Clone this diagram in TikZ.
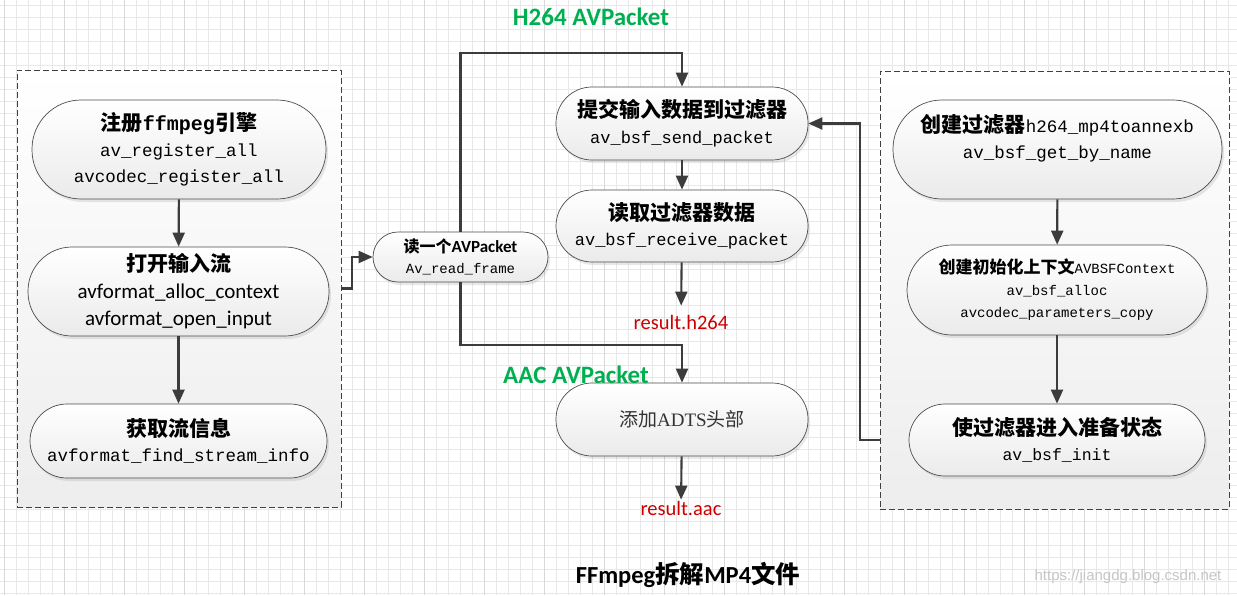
\documentclass[tikz,border=0pt]{standalone}
\usepackage{fontspec}
\setmainfont{Liberation Serif}
\setsansfont{Carlito}
\setmonofont{Liberation Mono}
\newfontfamily\cjk{Noto Sans CJK SC}
\newfontfamily\wmfont{Liberation Sans}
\usetikzlibrary{positioning, shapes.misc, arrows.meta, shadows}

\definecolor{pktgreen}{RGB}{0,176,80}
\definecolor{outred}{RGB}{204,0,0}
\definecolor{linegray}{RGB}{60,60,60}

\newcommand{\cnbold}[2][21]{{\cjk\bfseries\fontsize{#1}{26}\selectfont #2}}
\newcommand{\code}[2][17.5]{{\ttfamily\fontsize{#1}{26}\selectfont #2}}

\begin{document}
\begin{tikzpicture}[x=1pt, y=-1pt]
    % Styles
    \tikzstyle{gridline} = [gray!18, line width=0.7pt]
    \tikzstyle{major gridline} = [gray!30, line width=0.8pt]
    \tikzstyle{group} = [rectangle, draw=black!75, line width=0.8pt, dash pattern=on 6pt off 3pt, top color=white, bottom color=gray!14, inner sep=0pt]
    \tikzstyle{vertex} = [rectangle, draw=black!70, line width=0.7pt, top color=white, bottom color=gray!16, drop shadow={shadow xshift=2pt, shadow yshift=-3pt, opacity=0.18}, align=center, inner sep=0pt, font=\fontsize{17.5}{26}\selectfont\ttfamily]
    \tikzstyle{edge} = [-{Triangle[length=14pt, width=12pt]}, draw=linegray, line width=2.1pt]
    \tikzstyle{packet} = [font=\sffamily\bfseries\fontsize{25}{28}\selectfont, text=pktgreen, inner sep=0pt]
    \tikzstyle{result} = [font=\sffamily\fontsize{20.5}{24}\selectfont, text=outred, inner sep=1pt]

    \useasboundingbox (0,0) rectangle (1237,595);

    % Grid
    \fill[white] (0,0) rectangle (1237,595);
    \foreach \gx in {4,16,...,1237} \draw[gridline] (\gx,0) -- (\gx,595);
    \foreach \gy in {5,17,...,595} \draw[gridline] (0,\gy) -- (1237,\gy);
    \foreach \gx in {4,64,...,1237} \draw[major gridline] (\gx,0) -- (\gx,595);

    % Groups
    \node[group, minimum width=324, minimum height=437] (leftbox) at (179,288.5) {};
    \node[group, minimum width=349, minimum height=438] (rightbox) at (1054.5,290) {};

    % Nodes
    \node[vertex, minimum width=294, minimum height=99, rounded corners=49] (register) at (179,149.5)
        {\cnbold{注册}{\ttfamily\bfseries\fontsize{20}{26}\selectfont ffmpeg}\cnbold{引擎}\\ av\_register\_all\\ avcodec\_register\_all};
    \node[vertex, minimum width=301, minimum height=89, rounded corners=44, font=\sffamily\fontsize{21}{27}\selectfont] (open) at (178.5,291.5)
        {\cnbold{打开输入流}\\ avformat\_alloc\_context\\ avformat\_open\_input};
    \node[vertex, minimum width=297, minimum height=74, rounded corners=37, font=\fontsize{17.5}{25}\selectfont\ttfamily] (info) at (178.5,441)
        {\cnbold{获取流信息}\\ avformat\_find\_stream\_info};

    \node[vertex, minimum width=175, minimum height=50, rounded corners=25, font=\fontsize{14}{21}\selectfont\ttfamily] (read) at (460.5,257)
        {\cnbold[16]{读一个}{\sffamily\bfseries\fontsize{17}{21}\selectfont AVPacket}\\ Av\_read\_frame};

    \node[vertex, minimum width=252, minimum height=73, rounded corners=36, font=\fontsize{17}{26}\selectfont\ttfamily] (send) at (682,123.5)
        {\cnbold{提交输入数据到过滤器}\\ av\_bsf\_send\_packet};
    \node[vertex, minimum width=252, minimum height=72, rounded corners=36, font=\fontsize{17}{25}\selectfont\ttfamily] (receive) at (682,226)
        {\cnbold{读取过滤器数据}\\ av\_bsf\_receive\_packet};
    \node[vertex, minimum width=252, minimum height=73, rounded corners=36, font=\rmfamily\fontsize{19}{24}\selectfont, text=black!80] (adts) at (682,419.5)
        {{\cjk 添加}ADTS{\cjk 头部}};

    \node[vertex, minimum width=329, minimum height=99, rounded corners=49] (create) at (1057.5,149.5)
        {\cnbold{创建过滤器}\code{h264\_mp4toannexb}\\ av\_bsf\_get\_by\_name\\ ~};
    \node[vertex, minimum width=300, minimum height=90, rounded corners=45, font=\fontsize{14}{22}\selectfont\ttfamily] (alloc) at (1057,290)
        {\cnbold[17]{创建初始化上下文}\code[14]{AVBSFContext}\\ av\_bsf\_alloc\\ avcodec\_parameters\_copy};
    \node[vertex, minimum width=296, minimum height=72, rounded corners=36, font=\fontsize{16.5}{25}\selectfont\ttfamily] (init) at (1057,440)
        {\cnbold{使过滤器进入准备状态}\\ av\_bsf\_init};

    % Labels
    \node[packet] (h264pkt) at (591,17) {H264 AVPacket};
    \node[packet] (aacpkt) at (576,375) {AAC AVPacket};
    \node[result, inner ysep=9pt] (h264) at (681,322) {result.h264};
    \node[result] (aac) at (681,508) {result.aac};
    \node[inner sep=0pt] (title) at (688,575) {{\sffamily\bfseries\fontsize{24.5}{28}\selectfont FFmpeg}\cnbold[24.5]{拆解}{\sffamily\bfseries\fontsize{24.5}{28}\selectfont MP4}\cnbold[24.5]{文件}};
    \node[inner sep=0pt, text=gray!45, font=\wmfont\fontsize{15}{18}\selectfont] (mark) at (1128,577) {https://jiangdg.blog.csdn.net};

    % Edges
    \draw[edge] (register) -- (open);
    \draw[edge] (open) -- (info);
    \draw[edge] (leftbox.east) -- ++(11,0) |- (read.west);
    \draw[edge] (read.north) -- ++(0,-179) -| (send.north);
    \draw[edge] (read.south) -- ++(0,63) -| (adts.north);
    \draw[edge] (send) -- (receive);
    \draw[edge] (receive) -- (h264);
    \draw[edge] (adts) -- (aac);
    \draw[edge] (create) -- (alloc);
    \draw[edge] (alloc) -- (init);
    \draw[edge] (rightbox.west |- init.west) -- ++(-20,0) |- (send.east);
\end{tikzpicture}
\end{document}
